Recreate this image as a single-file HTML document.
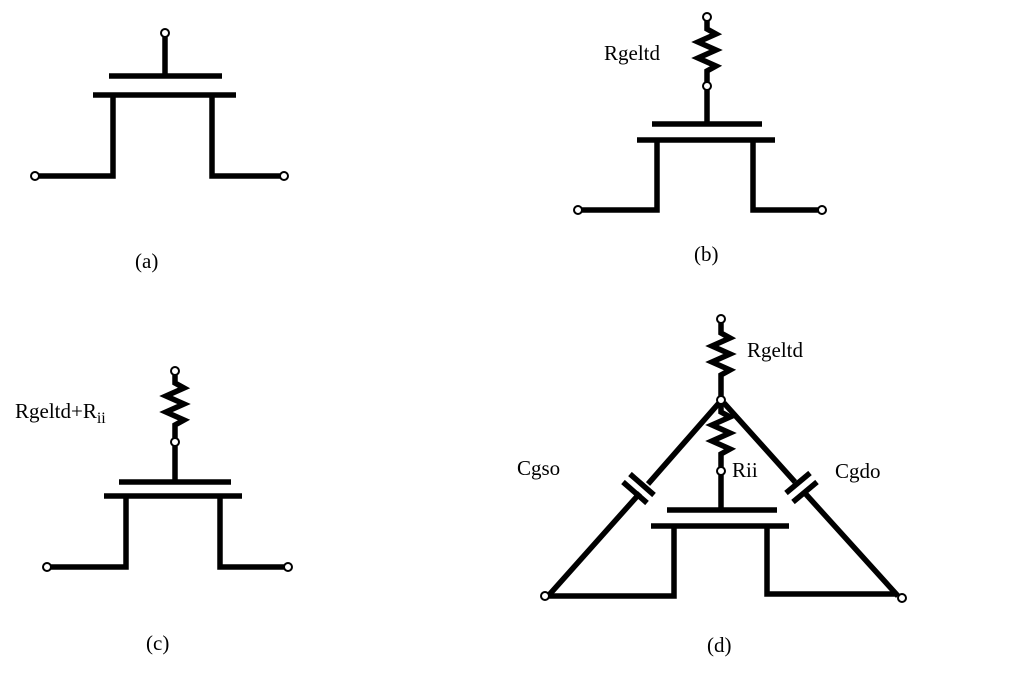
<!DOCTYPE html>
<html><head><meta charset="utf-8"><style>
html,body{margin:0;padding:0;background:#fff}
svg{display:block}
text{font-family:"Liberation Serif",serif;font-size:21px;fill:#000}
</style></head><body>
<svg width="1013" height="683" viewBox="0 0 1013 683">
<g fill="none" stroke="#000" stroke-width="5.5" stroke-linejoin="miter">
<!-- (a) -->
<line x1="165" y1="37" x2="165" y2="76"/>
<line x1="109" y1="76" x2="222" y2="76"/>
<line x1="93" y1="95" x2="236" y2="95"/>
<polyline points="39,176 113,176 113,95"/>
<polyline points="212,95 212,176 280,176"/>
<!-- (b) -->
<path d="M707,21 L707,29 L716,34 L698,42 L716,50 L698,58 L716,66 L707,71 L707,82"/>
<line x1="707" y1="90" x2="707" y2="124"/>
<line x1="652" y1="124" x2="762" y2="124"/>
<line x1="637" y1="140" x2="775" y2="140"/>
<polyline points="582,210 657,210 657,140"/>
<polyline points="753,140 753,210 818,210"/>
<!-- (c) -->
<path d="M175,375 L175,383 L184,388 L166,396 L184,404 L166,412 L184,420 L175,425 L175,438"/>
<line x1="175" y1="446" x2="175" y2="482"/>
<line x1="119" y1="482" x2="231" y2="482"/>
<line x1="104" y1="496" x2="242" y2="496"/>
<polyline points="51,567 126,567 126,496"/>
<polyline points="220,496 220,567 284,567"/>
<!-- (d) -->
<path d="M721,323 L721,333 L730,338 L712,346 L730,354 L712,362 L730,370 L721,375 L721,396"/>
<path d="M721,404 L721,412 L730,417 L712,425 L730,433 L712,441 L730,449 L721,454 L721,467"/>
<line x1="721" y1="475" x2="721" y2="510"/>
<line x1="667" y1="510" x2="777" y2="510"/>
<line x1="651" y1="526" x2="789" y2="526"/>
<polyline points="549,596 674,596 674,526"/>
<polyline points="767,526 767,594 897,594"/>
<line x1="719" y1="403" x2="648" y2="484"/>
<line x1="640" y1="493" x2="549" y2="595"/>
<line x1="630" y1="474" x2="654" y2="495"/>
<line x1="623" y1="482" x2="647" y2="503"/>
<line x1="724" y1="403" x2="795" y2="482"/>
<line x1="803" y1="491" x2="898" y2="596"/>
<line x1="786" y1="493" x2="810" y2="473"/>
<line x1="793" y1="502" x2="817" y2="482"/>
</g>
<g fill="#fff" stroke="#000" stroke-width="2">
<circle cx="165" cy="33" r="4"/><circle cx="35" cy="176" r="4"/><circle cx="284" cy="176" r="4"/>
<circle cx="707" cy="17" r="4"/><circle cx="707" cy="86" r="4"/><circle cx="578" cy="210" r="4"/><circle cx="822" cy="210" r="4"/>
<circle cx="175" cy="371" r="4"/><circle cx="175" cy="442" r="4"/><circle cx="47" cy="567" r="4"/><circle cx="288" cy="567" r="4"/>
<circle cx="721" cy="319" r="4"/><circle cx="721" cy="400" r="4"/><circle cx="721" cy="471" r="4"/><circle cx="545" cy="596" r="4"/><circle cx="902" cy="598" r="4"/>
</g>
<text x="135" y="268">(a)</text>
<text x="694" y="261">(b)</text>
<text x="146" y="650">(c)</text>
<text x="707" y="652">(d)</text>
<text x="604" y="60">Rgeltd</text>
<text x="15" y="418">Rgeltd+R<tspan font-size="16" dy="5">ii</tspan></text>
<text x="747" y="357">Rgeltd</text>
<text x="732" y="477">Rii</text>
<text x="517" y="475">Cgso</text>
<text x="835" y="478">Cgdo</text>
</svg>
</body></html>
